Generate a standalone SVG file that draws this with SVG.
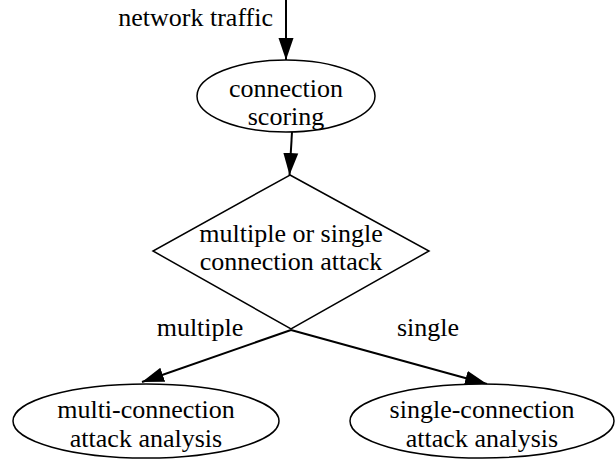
<svg xmlns="http://www.w3.org/2000/svg" width="615" height="460" viewBox="0 0 615 460">
<defs>
<marker id="ah" markerUnits="userSpaceOnUse" markerWidth="22" markerHeight="16" refX="22" refY="8" orient="auto">
<path d="M0,0.5 L22,8 L0,15.5 z" fill="#000"/>
</marker>
<style>
.n{fill:#fff;stroke:#000;stroke-width:1.5}
.e{fill:none;stroke:#000;stroke-width:2;marker-end:url(#ah)}
</style>
</defs>
<rect width="615" height="460" fill="#fff"/>
<g font-family="'Liberation Serif', 'DejaVu Serif', serif" font-size="26" fill="#000" text-anchor="middle">
<g id="edges">
<path class="e" d="M286,0 L286,60"/>
<path class="e" d="M292,132 L289.5,175"/>
<path class="e" d="M291,330 L142,382"/>
<path class="e" d="M291,330 L487,384"/>
<text x="273" y="26" text-anchor="end">network traffic</text>
<text x="200" y="336">multiple</text>
<text x="428" y="336">single</text>
</g>
<g id="scoring">
<ellipse class="n" cx="286" cy="96" rx="89" ry="36"/>
<text x="286" y="97">connection</text>
<text x="286" y="125">scoring</text>
</g>
<g id="decision">
<polygon class="n" points="290,175 429,251 291,329 153,251"/>
<text x="291" y="242">multiple or single</text>
<text x="291" y="270">connection attack</text>
</g>
<g id="multi">
<ellipse class="n" cx="146" cy="421" rx="133" ry="37"/>
<text x="146" y="418">multi-connection</text>
<text x="146" y="447">attack analysis</text>
</g>
<g id="single">
<ellipse class="n" cx="482" cy="421" rx="132" ry="37"/>
<text x="482" y="418">single-connection</text>
<text x="482" y="447">attack analysis</text>
</g>
</g>
</svg>
